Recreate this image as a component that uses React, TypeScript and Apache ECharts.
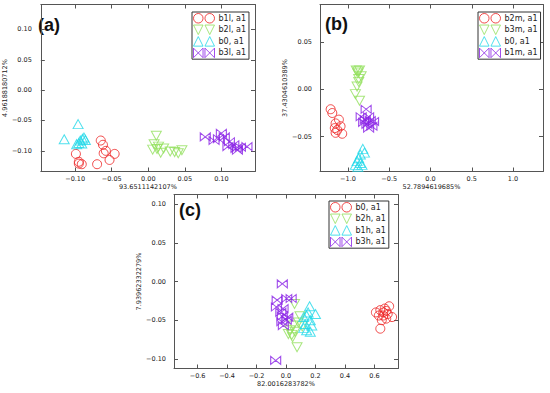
import React, { useEffect, useRef } from "react";
import * as echarts from "echarts";

type P = [number, number];

// ---- Panel (a) ----
const aRed: P[] = [[-0.065,-0.083],[-0.062,-0.090],[-0.099,-0.105],[-0.061,-0.104],[-0.046,-0.105],[-0.053,-0.115],[-0.095,-0.118],[-0.091,-0.122],[-0.095,-0.121],[-0.070,-0.122],[-0.058,-0.100]];
const aGreen: P[] = [[0.011,-0.075],[0.008,-0.089],[0.014,-0.093],[0.017,-0.103],[0.006,-0.098],[0.021,-0.096],[0.030,-0.101],[0.041,-0.104],[0.046,-0.099],[0.036,-0.102],[0.012,-0.097]];
const aCyan: P[] = [[-0.096,-0.056],[-0.115,-0.081],[-0.093,-0.083],[-0.088,-0.078],[-0.095,-0.087],[-0.086,-0.082],[-0.098,-0.089],[-0.091,-0.088],[-0.090,-0.080]];
const aPurple: P[] = [[0.078,-0.077],[0.100,-0.071],[0.090,-0.083],[0.104,-0.077],[0.111,-0.085],[0.109,-0.093],[0.117,-0.090],[0.122,-0.099],[0.126,-0.094],[0.135,-0.093],[0.096,-0.080],[0.120,-0.096]];
const aNames = ["b1l, a1", "b2l, a1", "b0, a1", "b3l, a1"];
const aXTicks = [-0.10, -0.05, 0.0, 0.05, 0.10];
const aYTicks = [-0.10, -0.05, 0.0, 0.05, 0.10];

// ---- Panel (b) ----
const bRed: P[] = [[-1.21,-0.021],[-1.19,-0.025],[-1.11,-0.032],[-1.15,-0.036],[-1.16,-0.041],[-1.09,-0.039],[-1.15,-0.046],[-1.07,-0.047],[-1.13,-0.043]];
const bGreen: P[] = [[-0.90,0.020],[-0.86,0.020],[-0.88,0.017],[-0.84,0.014],[-0.87,0.008],[-0.89,0.003],[-0.91,-0.005],[-0.86,-0.012],[-0.88,0.019],[-0.87,0.011]];
const bCyan: P[] = [[-0.82,-0.063],[-0.80,-0.067],[-0.85,-0.069],[-0.87,-0.073],[-0.89,-0.076],[-0.85,-0.078],[-0.91,-0.080],[-0.83,-0.080],[-0.88,-0.082]];
const bPurple: P[] = [[-0.78,-0.021],[-0.84,-0.029],[-0.75,-0.029],[-0.79,-0.032],[-0.69,-0.034],[-0.77,-0.037],[-0.71,-0.039],[-0.75,-0.041],[-0.81,-0.035],[-0.73,-0.033]];
const bNames = ["b2m, a1", "b3m, a1", "b0, a1", "b1m, a1"];
const bXTicks = [-1.0, -0.5, 0.0, 0.5, 1.0];
const bYTicks = [-0.05, 0.0, 0.05];

// ---- Panel (c) ----
const cRed: P[] = [[0.61,-0.040],[0.64,-0.037],[0.67,-0.035],[0.70,-0.032],[0.69,-0.042],[0.66,-0.044],[0.63,-0.044],[0.68,-0.048],[0.72,-0.046],[0.65,-0.050],[0.64,-0.061],[0.66,-0.040],[0.68,-0.038]];
const cGreen: P[] = [[0.058,-0.029],[0.095,-0.045],[0.084,-0.053],[0.050,-0.057],[0.027,-0.063],[0.061,-0.065],[0.039,-0.069],[0.016,-0.068],[0.075,-0.085],[0.110,-0.058],[0.045,-0.072]];
const cCyan: P[] = [[0.16,-0.032],[0.20,-0.042],[0.14,-0.044],[0.165,-0.050],[0.13,-0.055],[0.175,-0.057],[0.14,-0.063],[0.165,-0.065],[0.12,-0.046],[0.15,-0.040],[0.12,-0.060]];
const cPurple: P[] = [[-0.025,-0.003],[-0.060,-0.024],[0.005,-0.022],[0.035,-0.022],[-0.065,-0.033],[-0.020,-0.035],[-0.035,-0.040],[-0.025,-0.045],[0.012,-0.046],[-0.028,-0.052],[0.002,-0.050],[-0.018,-0.057],[-0.070,-0.102]];
const cNames = ["b0, a1", "b2h, a1", "b1h, a1", "b3h, a1"];
const cXTicks = [-0.6, -0.4, -0.2, 0.0, 0.2, 0.4, 0.6];
const cYTicks = [-0.10, -0.05, 0.0, 0.05, 0.10];

const RED = "#ee2020";
const GREEN = "#92e05c";
const CYAN = "#22d8e8";
const PURPLE = "#8a22e6";
const FRAME = "#555555";
const TXT = "#222222";

const BOWTIE = "path://M0,0 L5,5 L0,10 Z M10,0 L5,5 L10,10 Z";
const LEG_CIRCLE = "path://M0,5 A5,5 0 1,1 10,5 A5,5 0 1,1 0,5 Z M12,5 A5,5 0 1,1 22,5 A5,5 0 1,1 12,5 Z";
const LEG_DOWN = "path://M0,0 L10,0 L5,10 Z M12,0 L22,0 L17,10 Z";
const LEG_UP = "path://M5,0 L10,10 L0,10 Z M17,0 L22,10 L12,10 Z";
const LEG_BOW = "path://M0,0 L5,5 L0,10 Z M10,0 L5,5 L10,10 Z M12,0 L17,5 L12,10 Z M22,0 L17,5 L22,10 Z";

type Kind = "circle" | "down" | "up" | "bow";
const kindSymbol: Record<Kind, any> = {
  circle: { symbol: "circle", symbolSize: 9 },
  down: { symbol: "triangle", symbolSize: [10, 9], symbolRotate: 180 },
  up: { symbol: "triangle", symbolSize: [10, 9] },
  bow: { symbol: BOWTIE, symbolSize: [10, 8] },
};
const kindLegend: Record<Kind, string> = { circle: LEG_CIRCLE, down: LEG_DOWN, up: LEG_UP, bow: LEG_BOW };

const fmt = (v: number, d: number) => (Math.abs(v) < 1e-9 ? 0 : v).toFixed(d).replace("-", "\u2212");

function axisPair(gi: number, isX: boolean, min: number, max: number, ticks: number[], dec: number, name: string, nameGap: number, labelMargin: number) {
  const main = {
    type: "value",
    gridIndex: gi,
    position: isX ? "bottom" : "left",
    min,
    max,
    axisLine: { show: true, onZero: false, lineStyle: { color: FRAME, width: 1 } },
    axisTick: { show: true, inside: true, length: 4, customValues: ticks, lineStyle: { color: FRAME } },
    axisLabel: { customValues: ticks, formatter: (v: number) => fmt(v, dec), fontSize: 6.5, color: TXT, margin: labelMargin, fontFamily: "DejaVu Sans" },
    splitLine: { show: false },
    name,
    nameLocation: "middle",
    nameGap,
    nameTextStyle: { fontSize: 6.5, color: TXT, fontFamily: "DejaVu Sans" },
  };
  const opp = {
    type: "value",
    gridIndex: gi,
    position: isX ? "top" : "right",
    min,
    max,
    axisLine: { show: true, onZero: false, lineStyle: { color: FRAME, width: 1 } },
    axisTick: { show: true, inside: true, length: 4, customValues: ticks, lineStyle: { color: FRAME } },
    axisLabel: { show: false },
    splitLine: { show: false },
  };
  return [main, opp];
}

export default function App() {
  const ref = useRef<HTMLDivElement>(null);
  useEffect(() => {
    document.body.style.margin = "0";
    const chart = echarts.init(ref.current!, undefined, { renderer: "svg" });

    const panels = [
      { key: "a", names: aNames, data: [aRed, aGreen, aCyan, aPurple], kinds: ["circle", "down", "up", "bow"] as Kind[], colors: [RED, GREEN, CYAN, PURPLE] },
      { key: "b", names: bNames, data: [bRed, bGreen, bCyan, bPurple], kinds: ["circle", "down", "up", "bow"] as Kind[], colors: [RED, GREEN, CYAN, PURPLE] },
      { key: "c", names: cNames, data: [cRed, cGreen, cCyan, cPurple], kinds: ["circle", "down", "up", "bow"] as Kind[], colors: [RED, GREEN, CYAN, PURPLE] },
    ];

    const series: any[] = [];
    const legends: any[] = [];
    const legendPos = [
      { left: 192, top: 12 },
      { left: 478, top: 12 },
      { left: 329, top: 201 },
    ];
    panels.forEach((p, gi) => {
      const ldata: any[] = [];
      p.names.forEach((nm, i) => {
        const id = p.key + "|" + nm;
        series.push({
          type: "scatter",
          name: id,
          xAxisIndex: gi * 2,
          yAxisIndex: gi * 2,
          data: p.data[i],
          ...kindSymbol[p.kinds[i]],
          itemStyle: { color: "rgba(0,0,0,0)", borderColor: p.colors[i], borderWidth: 1 },
          emphasis: { disabled: true },
        });
        ldata.push({
          name: id,
          icon: kindLegend[p.kinds[i]],
          itemStyle: { color: "rgba(0,0,0,0)", borderColor: p.colors[i], borderWidth: 1 },
        });
      });
      legends.push({
        orient: "vertical",
        ...legendPos[gi],
        data: ldata,
        itemWidth: 21,
        itemHeight: 10,
        itemGap: 1,
        padding: [1, 3, 1, 1],
        borderColor: "#333",
        borderWidth: 1,
        backgroundColor: "#fff",
        selectedMode: false,
        formatter: (n: string) => n.split("|")[1],
        textStyle: { fontSize: 8, color: TXT, fontFamily: "DejaVu Sans", padding: [0, 0, 0, -1] },
      });
    });

    const xa = [
      ...axisPair(0, true, -0.147, 0.146, aXTicks, 2, "93.6511142107%", 8.5, 4),
      ...axisPair(1, true, -1.339, 1.363, bXTicks, 1, "52.7894619685%", 8.5, 4),
      ...axisPair(2, true, -0.76, 0.76, cXTicks, 1, "82.0016283782%", 10.5, 4),
    ];
    const ya = [
      ...axisPair(0, false, -0.134, 0.141, aYTicks, 2, "4.96188180712%", 27, 9),
      ...axisPair(1, false, -0.087, 0.090, bYTicks, 2, "37.4304610389%", 26, 8),
      ...axisPair(2, false, -0.1125, 0.1125, cYTicks, 2, "7.93962332279%", 26, 8),
    ];

    chart.setOption({
      animation: false,
      backgroundColor: "#ffffff",
      textStyle: { fontFamily: "DejaVu Sans" },
      grid: [
        { left: 33, top: 4.5, width: 222, height: 167 },
        { left: 320, top: 4.5, width: 223, height: 167 },
        { left: 174, top: 194.5, width: 224, height: 174 },
      ],
      xAxis: xa,
      yAxis: ya,
      legend: legends,
      series,
      graphic: [
        { type: "text", left: 38, top: 16, style: { text: "(a)", font: "bold 18px 'Liberation Sans', Arial, sans-serif", fill: "#111" } },
        { type: "text", left: 325, top: 15, style: { text: "(b)", font: "bold 18px 'Liberation Sans', Arial, sans-serif", fill: "#111" } },
        { type: "text", left: 179, top: 201, style: { text: "(c)", font: "bold 18px 'Liberation Sans', Arial, sans-serif", fill: "#111" } },
      ],
    });
    return () => chart.dispose();
  }, []);
  return <div ref={ref} style={{ width: 550, height: 393 }} />;
}
